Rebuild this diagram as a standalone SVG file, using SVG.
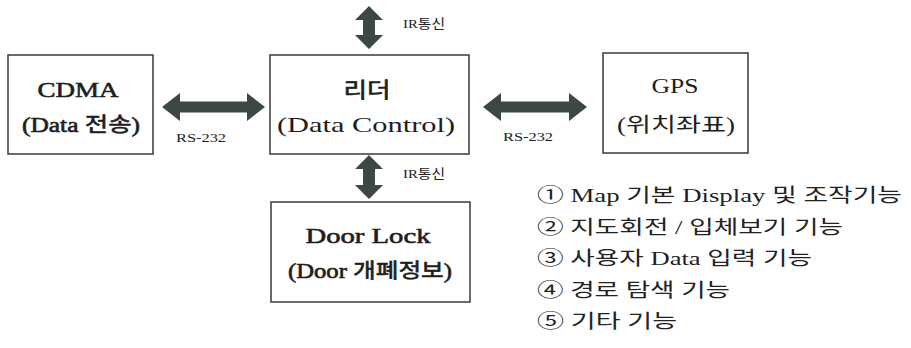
<svg xmlns="http://www.w3.org/2000/svg" width="911" height="348" viewBox="0 0 911 348">
<defs>
<style>
.box{fill:#fff;stroke:#3a3a3a;stroke-width:1.5}
.t{font-family:"Liberation Serif","Noto Sans CJK KR",serif;fill:#1e1e1e;text-anchor:middle}
.b{stroke:#1e1e1e;stroke-width:0.6}
.lbl{font-family:"Liberation Serif","Noto Sans CJK KR",serif;fill:#222;font-size:13px}
.item{font-family:"Liberation Serif","Noto Sans CJK KR",serif;fill:#222;font-size:19px}
.arrow{fill:#3c4844;stroke:none}
</style>
</defs>
<rect width="911" height="348" fill="#fff"/>
<g id="connectors">
<path class="arrow" d="M162,107 L180,93 L180,101.5 L247,101.5 L247,93 L265,107 L247,121 L247,112.5 L180,112.5 L180,121 Z"/>
<path class="arrow" d="M483,107 L501,93 L501,101.5 L569,101.5 L569,93 L587,107 L569,121 L569,112.5 L501,112.5 L501,121 Z"/>
<path class="arrow" d="M369,6 L383,20 L375,20 L375,35 L383,35 L369,49 L355,35 L363,35 L363,20 L355,20 Z"/>
<path class="arrow" d="M369,155 L383,169 L375,169 L375,185 L383,185 L369,199 L355,185 L363,185 L363,169 L355,169 Z"/>
<text class="lbl" x="176" y="142" textLength="50" lengthAdjust="spacingAndGlyphs">RS-232</text>
<text class="lbl" x="503" y="141" textLength="50" lengthAdjust="spacingAndGlyphs">RS-232</text>
<text class="lbl" x="403" y="28" textLength="42" lengthAdjust="spacingAndGlyphs">IR통신</text>
<text class="lbl" x="403" y="178" textLength="42" lengthAdjust="spacingAndGlyphs">IR통신</text>
</g>
<g id="cdma">
<rect class="box" x="8" y="55" width="145" height="99"/>
<text class="t b" x="78" y="97" font-size="22" textLength="81" lengthAdjust="spacingAndGlyphs">CDMA</text>
<text class="t b" x="81" y="132" font-size="20" textLength="118" lengthAdjust="spacingAndGlyphs">(Data 전송)</text>
</g>
<g id="reader">
<rect class="box" x="270" y="55" width="199" height="99"/>
<text class="t b" x="367" y="97" font-size="21" textLength="47" lengthAdjust="spacingAndGlyphs">리더</text>
<text class="t" x="366" y="132" font-size="21" textLength="178" lengthAdjust="spacingAndGlyphs">(Data Control)</text>
</g>
<g id="gps">
<rect class="box" x="603" y="53" width="145" height="100"/>
<text class="t" x="675" y="93" font-size="22" textLength="47" lengthAdjust="spacingAndGlyphs">GPS</text>
<text class="t" x="676" y="132" font-size="20" textLength="118" lengthAdjust="spacingAndGlyphs">(위치좌표)</text>
</g>
<g id="doorlock">
<rect class="box" x="271" y="202" width="199" height="100"/>
<text class="t b" x="368" y="243" font-size="22" textLength="125" lengthAdjust="spacingAndGlyphs">Door Lock</text>
<text class="t b" x="370" y="278" font-size="20" textLength="164" lengthAdjust="spacingAndGlyphs">(Door 개폐정보)</text>
</g>
<g id="features">
<text class="item" x="537" y="202" textLength="365" lengthAdjust="spacingAndGlyphs">① Map 기본 Display 및 조작기능</text>
<text class="item" x="537" y="233.5" textLength="306" lengthAdjust="spacingAndGlyphs">② 지도회전 / 입체보기 기능</text>
<text class="item" x="537" y="265" textLength="275" lengthAdjust="spacingAndGlyphs">③ 사용자 Data 입력 기능</text>
<text class="item" x="537" y="296.5" textLength="193" lengthAdjust="spacingAndGlyphs">④ 경로 탐색 기능</text>
<text class="item" x="537" y="328" textLength="140" lengthAdjust="spacingAndGlyphs">⑤ 기타 기능</text>
</g>
</svg>
